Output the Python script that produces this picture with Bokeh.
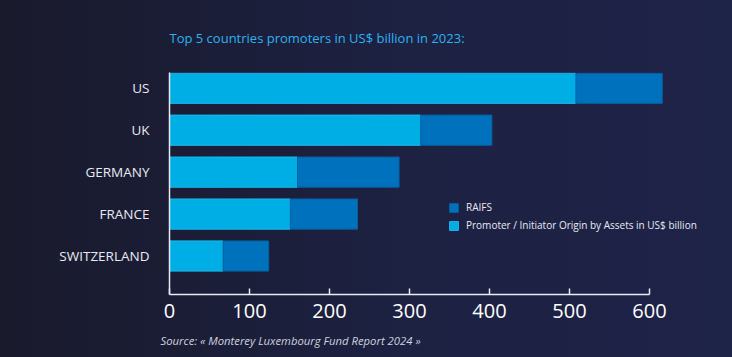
from bokeh.plotting import figure
from bokeh.models import Range1d, FixedTicker, Legend, LegendItem, Title, ColumnDataSource
from bokeh.embed import file_html
from bokeh.resources import INLINE

countries = ["US", "UK", "GERMANY", "FRANCE", "SWITZERLAND"]
promoter = [508, 314, 160, 151, 67]
raifs = [108, 89, 127, 84, 57]
x_ticks = [0, 100, 200, 300, 400, 500, 600]

series_names = ["promoter", "raifs"]
series_labels = ["Promoter / Initiator Origin by Assets in US$ billion", "RAIFS"]
series_colors = ["#00aee6", "#0071bc"]
series_lines = ["#1fb8ee", "#0a5f9e"]

title_text = "Top 5 countries promoters in US$ billion in 2023:"
source_text = "Source: « Monterey Luxembourg Fund Report 2024 »"

ypos = [len(countries) - 1 - i for i in range(len(countries))]
src = ColumnDataSource(dict(y=ypos, promoter=promoter, raifs=raifs))

TEXT = "#e9eaf2"

p = figure(width=732, height=357, x_range=Range1d(0, 690), y_range=Range1d(-0.918, 4.376),
           output_backend="svg", toolbar_location=None,
           min_border_left=169, min_border_right=11, min_border_top=72, min_border_bottom=60)
p.background_fill_alpha = 0
p.border_fill_alpha = 0
p.outline_line_color = None
p.grid.visible = False

rs = p.hbar_stack(series_names, y="y", height=0.72, source=src,
                  color=series_colors, line_color=series_lines, line_width=1)

# title
p.title.text = title_text
p.title.align = "left"
p.title.text_color = "#2bb3f0"
p.title.text_font = "Open Sans"
p.title.text_font_size = "13px"
p.title.text_font_style = "normal"
p.title.text_line_height = 0.9
p.title.standoff = 52

src_title = Title(text=source_text, align="left",
                  text_color="#cfd2df", text_font="Open Sans", text_font_size="11.3px",
                  text_font_style="italic", offset=-9, standoff=20, text_line_height=0.7)
p.add_layout(src_title, "below")

# x axis
xa = p.xaxis[0]
xa.ticker = FixedTicker(ticks=x_ticks)
xa.bounds = (0, 600)
xa.axis_line_color = TEXT
xa.axis_line_width = 1.5
xa.major_tick_line_color = TEXT
xa.major_tick_line_width = 1.5
xa.major_tick_in = 6
xa.major_tick_out = 0
xa.minor_tick_line_color = None
xa.major_label_text_color = "#ffffff"
xa.major_label_text_font = "Open Sans"
xa.major_label_text_font_size = "20px"
xa.major_label_standoff = 9

ya = p.yaxis[0]
ya.ticker = FixedTicker(ticks=ypos)
ya.major_label_overrides = {y: c for y, c in zip(ypos, countries)}
ya.axis_line_color = TEXT
ya.axis_line_width = 1.5
ya.major_tick_line_color = None
ya.minor_tick_line_color = None
ya.major_label_text_color = TEXT
ya.major_label_text_font = "Open Sans"
ya.major_label_text_font_size = "13.5px"
ya.major_label_standoff = 14

legend = Legend(items=[LegendItem(label=series_labels[1], renderers=[rs[1]]),
                       LegendItem(label=series_labels[0], renderers=[rs[0]])],
                location=(279, 62), orientation="vertical")
legend.background_fill_alpha = 0
legend.border_line_color = None
legend.glyph_width = 11
legend.glyph_height = 11
legend.label_text_color = TEXT
legend.label_text_font = "Open Sans"
legend.label_text_font_size = "10px"
legend.label_height = 12
legend.spacing = 4
legend.padding = 4
legend.label_standoff = 7
p.add_layout(legend, "center")

html = file_html(p, INLINE)
html = html.replace("<body>", '<body style="background: linear-gradient(90deg, #191a2c 0%, #1d2142 55%, #1e2348 100%); min-height: 100vh;">')
open("out.html", "w").write(html)
